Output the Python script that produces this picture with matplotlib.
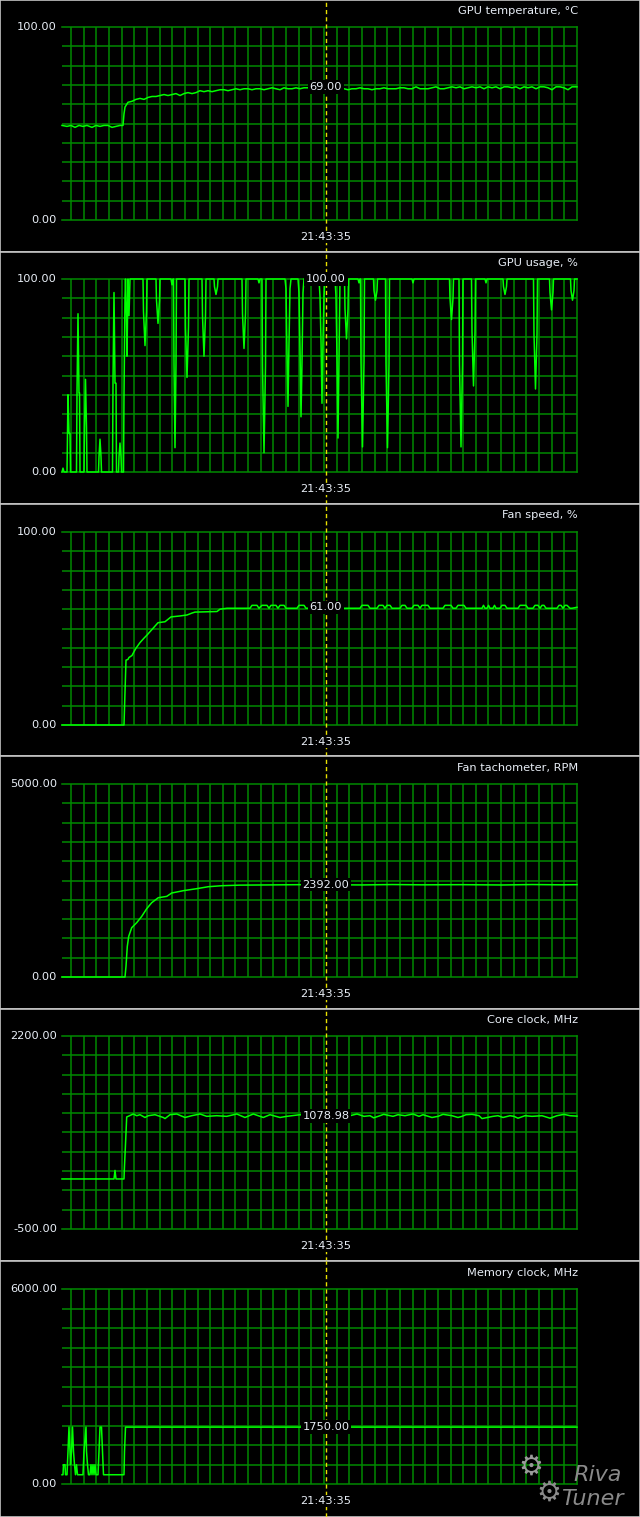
import matplotlib.pyplot as plt

# time axis: seconds since the left edge of the graph window
temp_t = [0, 5, 9, 13, 17, 21, 25, 30, 34, 38, 42, 46, 50, 54, 58, 61, 62, 63, 66, 70,
          74, 78, 82, 86, 90, 94, 98, 102, 106, 110, 114, 118, 122, 126, 130, 134, 138, 142,
          146, 150, 154, 158, 162, 166, 170, 174, 178, 182, 186, 190, 194, 198, 202, 206,
          210, 214, 218, 222, 226, 230, 234, 238, 242, 246, 282, 286, 290, 294, 298, 302,
          306, 310, 314, 318, 322, 326, 330, 334, 338, 342, 346, 350, 354, 358, 362, 366,
          370, 374, 378, 382, 386, 390, 394, 398, 402, 406, 410, 414, 418, 422, 426, 430,
          434, 438, 442, 446, 450, 454, 458, 462, 466, 470, 474, 478, 482, 486, 490, 494,
          498, 502, 506, 510, 515]
temp_v = [49, 48.5, 49, 48, 49, 48.5, 49, 48, 49, 48.5, 49, 49, 48, 48.5, 49, 49, 55, 58.5, 61, 61.5,
          62.5, 63, 62.5, 63.5, 64, 64, 64.5, 65, 64.5, 65, 65.5, 64.5, 65.5, 66, 65.5, 66, 67, 66.5,
          67, 66.5, 67, 67.5, 67.5, 67, 67.5, 68, 67.5, 68, 68, 67.5, 68, 68, 67.5, 68,
          68.5, 68, 67.5, 68.5, 68, 68, 68.5, 68, 68.5, 68.5, 68, 67.5, 68, 68, 68.5, 68,
          68, 67.5, 68, 68, 68.5, 68, 68, 68, 68.5, 68.5, 68, 68, 69, 68, 68, 68,
          68.5, 69, 68, 68, 68.5, 69, 68.5, 69, 68, 68.5, 69, 68.5, 69, 68, 69, 68.5,
          69, 68, 69, 69, 68.5, 69, 68, 69, 68.5, 69, 68, 69, 69, 68.5, 67.5, 69,
          69, 68.5, 67.5, 69, 69]

usage_points = [
    (0, 0), (1, 2), (2, 0), (5, 0), (5.5, 20), (6, 40), (7, 20), (8, 20), (8.5, 0),
    (14.5, 0), (15, 41), (16, 82), (17, 41), (17.5, 41), (18, 0),
    (22, 0), (22.5, 23), (23.5, 48), (24.5, 23), (25, 0),
    (36.5, 0), (37, 8), (38, 17), (39, 8), (39.5, 0),
    (50.5, 0), (51, 46), (52, 93), (53, 46), (54, 46), (54.5, 0),
    (56.5, 0), (57, 8), (58, 15), (59, 8), (59.5, 0),
    (61.5, 0), (62, 40), (63, 90), (63.5, 100), (64.5, 81), (65, 60), (66, 100), (67, 81), (68, 100),
    (81, 100), (81.5, 83), (83, 65.5), (84.5, 83), (85, 100),
    (94, 100), (94.5, 89), (96, 77), (97.5, 89), (98, 100),
    (109, 100), (110, 97), (111, 100),
    (111.5, 100), (112, 56), (113, 12.6), (114, 56), (114.5, 100),
    (123, 100), (123.5, 75), (125, 49), (126.5, 75), (127, 100),
    (140, 100), (140.5, 81), (142, 60), (143.5, 81), (144, 100),
    (152, 100), (152.5, 96), (154, 92), (155.5, 96), (156, 100),
    (180, 100), (180.5, 82), (182, 64), (183.5, 82), (184, 100),
    (196, 100), (197, 98), (198, 100),
    (200, 100), (200.5, 55), (202, 10), (203.5, 55), (204, 100),
    (223, 100), (224, 95), (225, 62), (226, 34), (227, 67), (228, 95), (229, 100),
    (236, 100), (237, 93), (238, 64), (239, 28.6), (240, 57), (241, 93), (242, 100),
    (257, 100), (258, 91), (259, 68), (260, 35.6), (261, 68), (262, 91), (263, 100),
    (273, 100), (274, 91), (275, 59), (276, 17.6), (277, 59), (278, 100),
    (282.5, 100), (283, 84.5), (284.5, 69), (286, 84.5), (286.5, 100),
    (296, 100), (297, 98), (298, 100),
    (298.5, 100), (299, 57), (300.5, 13), (302, 57), (302.5, 100),
    (311.5, 100), (312, 94), (313.5, 89), (315, 94), (315.5, 100),
    (323.5, 100), (324, 56), (325.5, 12.6), (327, 56), (327.5, 100),
    (350, 100), (351, 98), (352, 100),
    (387.5, 100), (388, 90), (389.5, 79), (391, 90), (391.5, 100),
    (397, 100), (397.5, 56), (399, 13), (400.5, 56), (401, 100),
    (409.5, 100), (410, 72.7), (411.5, 44.6), (413, 72.7), (413.5, 100),
    (423, 100), (424, 98), (425, 100),
    (441, 100), (441.5, 96), (443, 92), (444.5, 96), (445, 100),
    (471.5, 100), (472, 71.5), (473.5, 43), (475, 71.5), (475.5, 100),
    (487.5, 100), (488, 93), (489.5, 84), (491, 93), (491.5, 100),
    (508.5, 100), (509, 94), (510.5, 89), (512, 94), (512.5, 100), (515, 100),
]
usage_t = [p[0] for p in usage_points]
usage_v = [p[1] for p in usage_points]

fan_t = [0, 62, 63, 64, 66, 67, 70, 72, 74, 78, 82, 85, 90, 96, 103, 109, 118, 125, 130, 133,
         155, 158, 165, 188, 190, 195, 197, 200, 205, 207, 209, 214, 216, 218, 222, 224, 235,
         237, 242, 244, 298, 300, 306, 308, 315, 317, 321, 323, 325, 328, 330, 338, 340, 343,
         345, 350, 352, 356, 358, 360, 366, 368, 381, 383, 389, 391, 394, 396, 402, 404, 420,
         421.5, 423, 425, 426.5, 428, 431, 432.5, 434, 438, 440, 443, 445, 456, 458, 464, 466,
         471, 473, 476, 478, 480, 482, 484, 486, 495, 497, 499, 501, 503, 505, 508, 510, 515]
fan_v = [0, 0, 17, 33.6, 34, 35, 36, 38, 39.8, 42.7, 45, 46.6, 49.5, 53, 53.5, 56, 56.5, 57, 58, 58.5,
         58.8, 60, 60.5, 60.5, 62, 62, 60.5, 62, 62, 60.5, 62, 62, 60.5, 62, 62, 60.5, 60.5,
         62, 62, 60.5, 60.5, 62, 62, 60.5, 60.5, 62, 62, 60.5, 62, 62, 60.5, 60.5, 62, 62,
         60.5, 60.5, 62, 62, 60.5, 62, 62, 60.5, 60.5, 62, 62, 60.5, 60.5, 62, 62, 60.5, 60.5,
         62, 60.5, 60.5, 62, 60.5, 60.5, 62, 60.5, 60.5, 62, 62, 60.5, 60.5, 62, 62, 60.5,
         60.5, 62, 62, 60.5, 62, 62, 60.5, 60.5, 60.5, 62, 62, 60.5, 62, 62, 60.5, 60.5, 61]

tach_t = [0, 63, 64, 65.3, 66.7, 69.7, 74.7, 79.7, 84.7, 89.7, 96.3, 104.7, 109.7, 121.3, 134.7,
          146.3, 159.7, 178, 204.7, 238, 250, 300, 330, 360, 400, 440, 470, 500, 515]
tach_v = [0, 0, 275, 793, 1052, 1277, 1407, 1570, 1769, 1925, 2054, 2088, 2176, 2236, 2288,
          2339, 2365, 2380, 2385, 2392, 2392, 2385, 2395, 2388, 2392, 2384, 2395, 2388, 2392]

core_points = [
    (0, 200), (52, 200), (53, 320), (54, 200), (62, 200), (62.3, 320), (63.7, 749), (64.7, 1067),
    (71.3, 1109), (74.7, 1085), (78, 1099), (83, 1060), (86.3, 1085), (93, 1099), (101.3, 1060),
    (103, 1045), (108, 1099), (114.7, 1109), (123, 1060), (129.7, 1085), (138, 1109), (144.7, 1076),
    (154.7, 1085), (164.7, 1076), (174.7, 1109), (183, 1060), (191.3, 1109), (201.3, 1060),
    (208, 1099), (218, 1060), (224.7, 1076), (238, 1099), (245, 1076), (257, 1085), (262, 1099),
    (266, 1060), (271, 1076), (275, 1099), (281.7, 1060), (288, 1085), (295, 1109), (302, 1076),
    (308, 1085), (311.7, 1055), (318, 1085), (321.7, 1104), (331, 1076), (336, 1099), (343, 1085),
    (351, 1109), (357, 1076), (361, 1099), (370, 1060), (376, 1076), (381, 1104), (390, 1085),
    (396, 1060), (400, 1076), (404, 1099), (410, 1104), (417, 1085), (420, 1045), (431, 1076),
    (436, 1085), (441, 1060), (448, 1085), (452, 1076), (456, 1050), (463, 1085), (470, 1076),
    (480, 1085), (488, 1050), (495, 1085), (502, 1104), (508, 1085), (515, 1079),
]
core_t = [p[0] for p in core_points]
core_v = [p[1] for p in core_points]

mem_t = [0, 1, 1.5, 3, 3.5, 5, 6, 7, 8, 8.5, 9.5, 10.5, 11.5, 12.5, 13.5, 14.5, 15.5, 21, 22,
         24, 24.5, 25.5, 26.5, 28, 29, 30, 31, 32, 33, 34, 36, 37, 38, 39.5, 40.5, 41.5, 62,
         62.5, 63.5, 515]
mem_v = [285, 285, 593, 593, 285, 285, 1004, 1751, 1004, 593, 1004, 1751, 1004, 593, 285, 593,
         285, 285, 1004, 1751, 1004, 593, 285, 285, 593, 285, 593, 285, 593, 285, 285, 1004,
         1751, 1751, 1004, 285, 285, 1004, 1750, 1750]

titles = ['GPU temperature, °C', 'GPU usage, %', 'Fan speed, %', 'Fan tachometer, RPM',
          'Core clock, MHz', 'Memory clock, MHz']
y_low = [0, 0, 0, 0, -500, 0]
y_high = [100, 100, 100, 5000, 2200, 6000]
current = [69.00, 100.00, 61.00, 2392.00, 1078.98, 1750.00]
series = [(temp_t, temp_v), (usage_t, usage_v), (fan_t, fan_v), (tach_t, tach_v),
          (core_t, core_v), (mem_t, mem_v)]
cursor_t = 264
cursor_label = '21:43:35'

W, H = 640, 1517
frame_top = [0, 252, 504, 756, 1009, 1261]
frame_bot = [252, 504, 756, 1009, 1261, 1517]
plot_top = [27, 279, 532, 784, 1036, 1289]
plot_bot = [220, 472, 725, 977, 1229, 1484]
plot_left, plot_right = 62, 577
t_span = plot_right - plot_left

GRID = '#008a00'
LINE = '#00ff00'
TXT = '#e8eef6'
CURSOR = '#e8e000'

fig = plt.figure(figsize=(W / 100, H / 100), dpi=100, facecolor='black')
plt.rcParams['font.family'] = ['DejaVu Sans']
FS = 8.2


def fx(x):
    return x / W


def fy(y):
    return 1 - y / H


for i in range(6):
    ft, fb, top, bot = frame_top[i], frame_bot[i], plot_top[i], plot_bot[i]

    frame = fig.add_axes([0, fy(fb), 1, (fb - ft) / H])
    frame.set_facecolor('black')
    frame.set_xticks([])
    frame.set_yticks([])
    for s in frame.spines.values():
        s.set_color('#c4c4c4')
        s.set_linewidth(1.2)

    ax = fig.add_axes([fx(plot_left), fy(bot), t_span / W, (bot - top) / H])
    ax.set_facecolor('none')
    ax.set_xlim(0, t_span)
    ax.set_ylim(y_low[i], y_high[i])
    step = (y_high[i] - y_low[i]) / 10
    ax.set_yticks([y_low[i] + k * step for k in range(1, 10)])
    ax.set_xticks([t_span - k * 12.65 for k in range(1, 41)])
    ax.grid(True, color=GRID, lw=1.1)
    ax.tick_params(length=0, labelleft=False, labelbottom=False)
    for name in ['top', 'bottom', 'right']:
        ax.spines[name].set_color(GRID)
        ax.spines[name].set_linewidth(1.1)
    ax.spines['left'].set_visible(False)

    t, v = series[i]
    ax.plot(t, v, color=LINE, lw=1.1, zorder=3, clip_on=False)

    h = bot - top
    ax.axvline(cursor_t, ymin=-(fb - bot) / h, ymax=1 + (top - ft) / h, color=CURSOR,
               lw=1.0, dashes=(3, 2.2), clip_on=False, zorder=4)

    ax.text(cursor_t, current[i], f'{current[i]:.2f}', ha='center', va='center', color=TXT,
            fontsize=FS, zorder=6, bbox=dict(fc='black', ec='none', pad=1.2))

    fig.text(fx(57), fy(top), f'{y_high[i]:.2f}', ha='right', va='center', color=TXT, fontsize=FS)
    fig.text(fx(57), fy(bot), f'{y_low[i]:.2f}', ha='right', va='center', color=TXT, fontsize=FS)
    fig.text(fx(plot_right + 1), fy(top - 16.5), titles[i], ha='right', va='center', color=TXT,
             fontsize=FS)
    fig.text(fx(plot_left + cursor_t), fy(bot + 17), cursor_label, ha='center', va='center',
             color=TXT, fontsize=FS, zorder=6,
             bbox=dict(fc='black', ec='none', pad=1.0))

# RivaTuner watermark
fig.text(fx(531), fy(1467), '\u2699', ha='center', va='center', color='#9a9a9a', fontsize=20)
fig.text(fx(549), fy(1493), '\u2699', ha='center', va='center', color='#8c8c8c', fontsize=20)
fig.text(fx(598), fy(1475), 'Riva', ha='center', va='center', color='#8a8a8a', fontsize=16,
         style='italic')
fig.text(fx(592), fy(1499), 'Tuner', ha='center', va='center', color='#8a8a8a', fontsize=16,
         style='italic')

fig.savefig('out.png', dpi=100, facecolor='black')
